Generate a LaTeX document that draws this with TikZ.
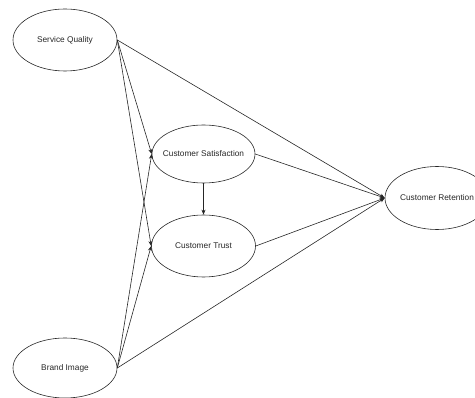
\documentclass[tikz,border=0pt]{standalone}
\usepackage{fontspec}
\setmainfont{Liberation Sans}
\usetikzlibrary{shapes.geometric,arrows.meta}
\begin{document}
\begin{tikzpicture}[x=1pt,y=-1pt,
  ell/.style={draw=black!85, ellipse, line width=0.6pt, inner sep=0pt},
  lbl/.style={font=\fontsize{8.3}{10}\selectfont, text=black!85, inner sep=0pt},
  conn/.style={draw=black!85, line width=0.6pt, -{Stealth[length=5pt,width=4pt]}}]
\useasboundingbox (0,0) rectangle (475,398);
\node[ell, minimum width=104pt, minimum height=62pt] (sq) at (65,40) {};
\node[lbl] (sqt) at (sq) {Service Quality};
\node[ell, minimum width=104pt, minimum height=60pt] (bi) at (65,368) {};
\node[lbl] (bit) at (bi) {Brand Image};
\node[ell, minimum width=103pt, minimum height=58pt] (cs) at (203.5,154) {};
\node[lbl] (cst) at (cs) {Customer Satisfaction};
\node[ell, minimum width=104pt, minimum height=62pt] (ct) at (203.5,246) {};
\node[lbl] (ctt) at (ct) {Customer Trust};
\node[ell, minimum width=104pt, minimum height=63pt] (cr) at (437,198) {};
\node[lbl] (crt) at (cr) {Customer Retention};
\draw[conn] (sq.east) -- (cs.west);
\draw[conn] (sq.east) -- (ct.west);
\draw[conn] (sq.east) -- (cr.west);
\draw[conn] (bi.east) -- (cs.west);
\draw[conn] (bi.east) -- (ct.west);
\draw[conn] (bi.east) -- (cr.west);
\draw[conn] (cs.south) -- (ct.north);
\draw[conn] (cs.east) -- (cr.west);
\draw[conn] (ct.east) -- (cr.west);
\end{tikzpicture}
\end{document}
